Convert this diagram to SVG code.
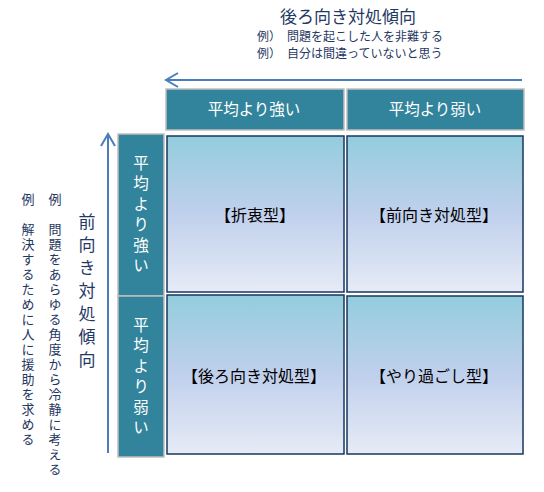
<svg xmlns="http://www.w3.org/2000/svg" width="544" height="492" viewBox="0 0 544 492">
<style>
text{font-family:"Noto Sans CJK JP","Noto Sans CJK SC",sans-serif;}
.hdr{fill:#31849b;stroke:#bfbfbf;stroke-width:1.5;}
.hdrt{fill:#ffffff;font-size:15.5px;}
.q{fill:url(#qg);stroke:#17375e;stroke-width:1.5;}
.qt{fill:#000000;font-size:16px;text-anchor:middle;}
.nav{fill:#1f3864;}
.vt{writing-mode:vertical-rl;}
.arr{stroke:#4a7ebb;stroke-width:2;fill:none;}
</style>
<defs>
<linearGradient id="qg" x1="0" y1="0" x2="0" y2="1">
<stop offset="0" stop-color="#93cddd"/>
<stop offset="0.5" stop-color="#c0d0ec"/>
<stop offset="1" stop-color="#e6ebf6"/>
</linearGradient>
</defs>
<g id="title">
<text class="nav" x="348" y="23" font-size="17" text-anchor="middle">後ろ向き対処傾向</text>
<text class="nav" x="257" y="41" font-size="12">例）　問題を起こした人を非難する</text>
<text class="nav" x="257" y="58" font-size="12">例）　自分は間違っていないと思う</text>
</g>
<g id="connectors">
<line class="arr" x1="522" y1="80" x2="167" y2="80"/>
<polyline class="arr" points="178,73 166,80 178,87"/>
<line class="arr" x1="108" y1="453" x2="108" y2="135"/>
<polyline class="arr" points="101,146 108,134 115,146"/>
</g>
<g id="hdr-strong-top">
<rect class="hdr" x="166" y="89" width="178" height="41"/>
<text class="hdrt" x="254" y="115" text-anchor="middle">平均より強い</text>
</g>
<g id="hdr-weak-top">
<rect class="hdr" x="347" y="89" width="177" height="41"/>
<text class="hdrt" x="435" y="115" text-anchor="middle">平均より弱い</text>
</g>
<g id="hdr-strong-left">
<rect class="hdr" x="118" y="134" width="46" height="162"/>
<text class="hdrt vt" x="141" y="155" letter-spacing="5">平均より強い</text>
</g>
<g id="hdr-weak-left">
<rect class="hdr" x="118" y="296" width="46" height="161"/>
<text class="hdrt vt" x="141" y="317" letter-spacing="5">平均より弱い</text>
</g>
<g id="q-tl">
<rect class="q" x="167" y="136" width="177" height="156"/>
<text class="qt" x="255" y="221">【折衷型】</text>
</g>
<g id="q-tr">
<rect class="q" x="347" y="136" width="176" height="156"/>
<text class="qt" x="434" y="221">【前向き対処型】</text>
</g>
<g id="q-bl">
<rect class="q" x="167" y="295" width="177" height="159"/>
<text class="qt" x="254" y="382">【後ろ向き対処型】</text>
</g>
<g id="q-br">
<rect class="q" x="347" y="296" width="176" height="158"/>
<text class="qt" x="434" y="382">【やり過ごし型】</text>
</g>
<g id="left-labels">
<text class="nav vt" x="87" y="213" font-size="17" letter-spacing="6">前向き対処傾向</text>
<text class="nav vt" x="55" y="193" font-size="13" letter-spacing="2">例　問題をあらゆる角度から冷静に考える</text>
<text class="nav vt" x="28" y="193" font-size="13" letter-spacing="2">例　解決するために人に援助を求める</text>
</g>
</svg>
